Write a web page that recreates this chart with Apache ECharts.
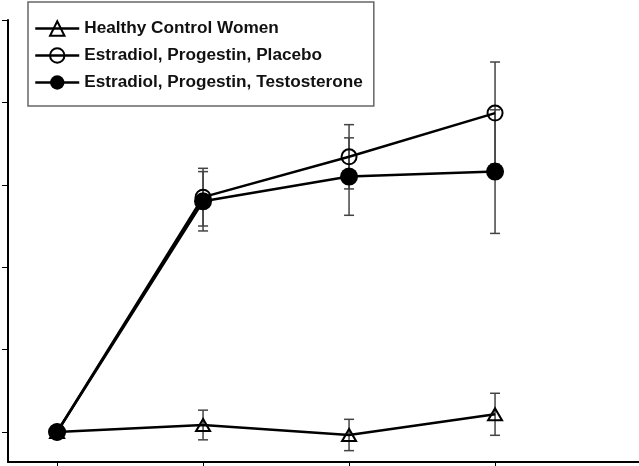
<!DOCTYPE html>
<html>
<head>
<meta charset="utf-8">
<script src="https://cdn.jsdelivr.net/npm/echarts@6/dist/echarts.min.js"></script>
<style>html,body{margin:0;padding:0;background:#fff}#c{width:639px;height:466px}</style>
</head>
<body>
<div id="c"></div>
<script>
const timePoints = [0, 1, 2, 3];
const seriesNames = ['Healthy Control Women', 'Estradiol, Progestin, Placebo', 'Estradiol, Progestin, Testosterone'];
const healthy = [0, 0.085, -0.036, 0.215];
const healthyErr = [0, 0.18, 0.19, 0.255];
const placebo = [0, 2.85, 3.34, 3.87];
const placeboErr = [0, 0.35, 0.39, 0.62];
const testo = [0, 2.80, 3.10, 3.16];
const testoErr = [0, 0.36, 0.47, 0.75];
const yTicks = [0, 1, 2, 3, 4, 5];

const chart = echarts.init(document.getElementById('c'), null, {renderer: 'canvas'});

function pts(vals) { return timePoints.map((t, i) => [t, vals[i]]); }
function errData(vals, errs) { return timePoints.map((t, i) => [t, vals[i], errs[i]]); }

function errRender(params, api) {
  const x = api.value(0), y = api.value(1), e = api.value(2);
  if (!e) return null;
  const top = api.coord([x, y + e]);
  const bot = api.coord([x, y - e]);
  const hw = 5;
  const st = {stroke: '#444', lineWidth: 1.5};
  return {
    type: 'group',
    children: [
      {type: 'line', shape: {x1: top[0], y1: top[1], x2: bot[0], y2: bot[1]}, style: st},
      {type: 'line', shape: {x1: top[0] - hw, y1: top[1], x2: top[0] + hw, y2: top[1]}, style: st},
      {type: 'line', shape: {x1: bot[0] - hw, y1: bot[1], x2: bot[0] + hw, y2: bot[1]}, style: st}
    ]
  };
}

const lineBase = {
  type: 'line',
  lineStyle: {color: '#000', width: 2.5},
  emphasis: {disabled: true},
  animation: false
};

chart.setOption({
  animation: false,
  backgroundColor: '#fff',
  grid: {left: 8, right: 0, top: 20, bottom: 4, containLabel: false},
  legend: {
    orient: 'vertical',
    left: 28, top: 2,
    padding: [18, 11, 15, 6],
    itemWidth: 44, itemHeight: 18, itemGap: 10,
    borderColor: '#666', borderWidth: 1.5,
    backgroundColor: '#fff',
    lineStyle: {width: 2.5, color: '#000'},
    textStyle: {fontFamily: 'Liberation Sans', fontWeight: 'bold', fontSize: 17.2, color: '#111'},
    data: seriesNames,
    selectedMode: false
  },
  xAxis: {
    type: 'value', min: -0.336, max: 3.986,
    axisLine: {show: true, onZero: false, lineStyle: {color: '#000', width: 2}},
    axisTick: {show: true, customValues: timePoints, length: 4, inside: false, lineStyle: {color: '#000', width: 1}},
    axisLabel: {show: false},
    splitLine: {show: false}
  },
  yAxis: {
    type: 'value', min: -0.364, max: 5,
    axisLine: {show: true, onZero: false, lineStyle: {color: '#000', width: 2}},
    axisTick: {show: true, customValues: yTicks, length: 6, inside: false, lineStyle: {color: '#000', width: 1}},
    axisLabel: {show: false},
    splitLine: {show: false}
  },
  series: [
    {type: 'custom', renderItem: errRender, data: errData(healthy, healthyErr), z: 1, silent: true},
    {type: 'custom', renderItem: errRender, data: errData(placebo, placeboErr), z: 1, silent: true},
    {type: 'custom', renderItem: errRender, data: errData(testo, testoErr), z: 1, silent: true},
    Object.assign({}, lineBase, {
      name: seriesNames[0], data: pts(healthy), z: 3,
      symbol: 'triangle', symbolSize: [14, 12],
      itemStyle: {color: 'rgba(255,255,255,0)', borderColor: '#000', borderWidth: 2}
    }),
    Object.assign({}, lineBase, {
      name: seriesNames[1], data: pts(placebo), z: 3,
      symbol: 'circle', symbolSize: 15,
      itemStyle: {color: 'rgba(255,255,255,0)', borderColor: '#000', borderWidth: 2}
    }),
    Object.assign({}, lineBase, {
      name: seriesNames[2], data: pts(testo), z: 4,
      symbol: 'circle', symbolSize: 18,
      itemStyle: {color: '#000', borderColor: '#000', borderWidth: 0}
    })
  ]
});
</script>
</body>
</html>
